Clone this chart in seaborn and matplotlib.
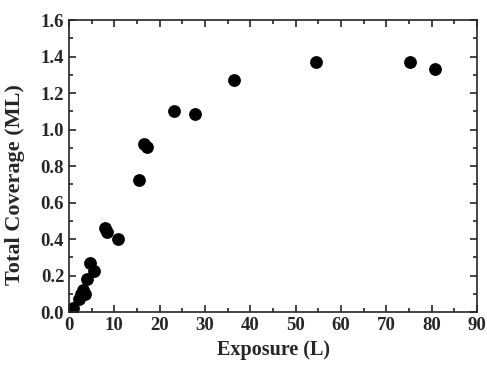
import matplotlib
matplotlib.use("Agg")
import matplotlib.pyplot as plt
import seaborn as sns
import pandas as pd
from matplotlib.ticker import MultipleLocator

# Datos
exposure = [0.9, 2.2, 2.6, 3.0, 3.5, 4.0, 4.6, 5.5, 8.0, 8.4, 10.7,
            15.5, 16.6, 17.3, 23.2, 27.7, 36.5, 54.5, 75.3, 80.7]
coverage = [0.02, 0.07, 0.10, 0.12, 0.10, 0.18, 0.27, 0.225, 0.46, 0.44, 0.40,
            0.725, 0.92, 0.905, 1.10, 1.085, 1.27, 1.37, 1.37, 1.33]

df = pd.DataFrame({"Exposure (L)": exposure, "Total Coverage (ML)": coverage})

sns.set_style("ticks")
plt.rcParams["font.family"] = ["Liberation Serif", "DejaVu Serif"]
plt.rcParams["font.weight"] = "bold"

fig = plt.figure(figsize=(4.87, 3.65), dpi=100)
ax = fig.add_axes([0.1417, 0.145, 0.8378, 0.80])

sns.scatterplot(data=df, x="Exposure (L)", y="Total Coverage (ML)", ax=ax,
                color="black", s=85, edgecolor="black", linewidth=0)

ax.set_xlim(0, 90)
ax.set_ylim(0, 1.6)
ax.xaxis.set_major_locator(MultipleLocator(10))
ax.xaxis.set_minor_locator(MultipleLocator(5))
ax.yaxis.set_major_locator(MultipleLocator(0.2))
ax.yaxis.set_minor_locator(MultipleLocator(0.1))
ax.yaxis.set_major_formatter(plt.FormatStrFormatter("%.1f"))

ax.tick_params(which="both", direction="in", top=True, right=True,
               labelsize=13.5, width=1.2)
ax.tick_params(which="major", length=5)
ax.tick_params(which="minor", length=3)
for lab in ax.get_xticklabels() + ax.get_yticklabels():
    lab.set_fontweight("bold")
for sp in ax.spines.values():
    sp.set_linewidth(1.2)

ax.set_xlabel("Exposure (L)", fontsize=14.5, fontweight="bold", va="center")
ax.set_ylabel("Total Coverage (ML)", fontsize=16, fontweight="bold", va="center")
ax.xaxis.set_label_coords(0.5, -0.13)
ax.yaxis.set_label_coords(-0.132, 0.435)

fig.savefig("out.png", dpi=100)
